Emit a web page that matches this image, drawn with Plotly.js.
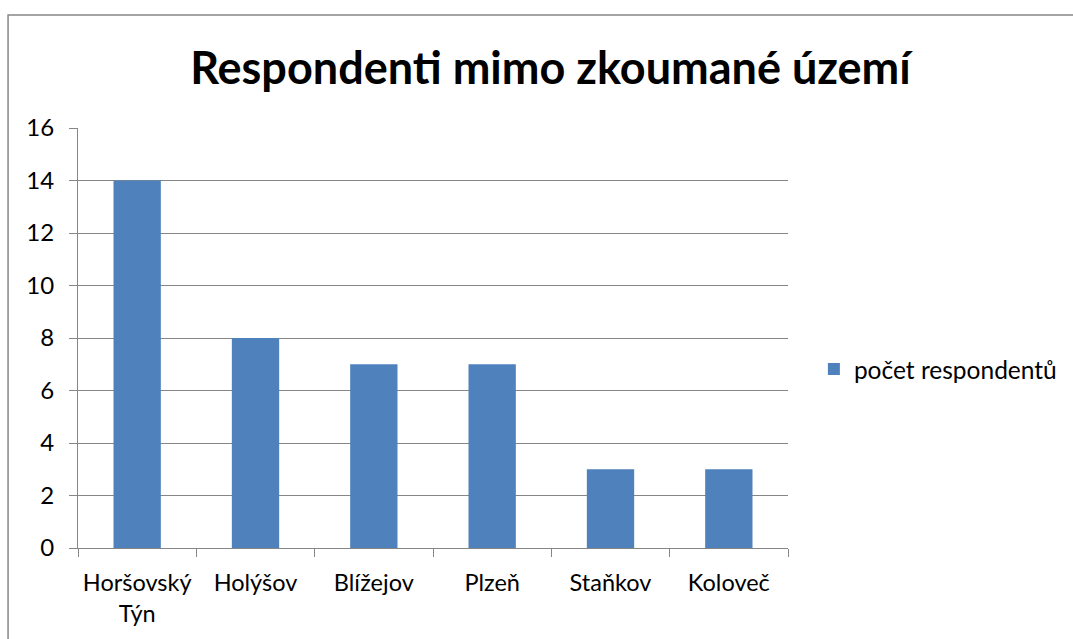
<!DOCTYPE html>
<html>
<head>
<meta charset="utf-8">
<script src="https://cdn.plot.ly/plotly-3.0.1.min.js"></script>
<style>html,body{margin:0;padding:0;background:#fff;}#chart{width:1073px;height:639px;}</style>
</head>
<body>
<div id="chart"></div>
<script>
const categories = ["Horšovský<br>Týn", "Holýšov", "Blížejov", "Plzeň", "Staňkov", "Koloveč"];
const values = [14, 8, 7, 7, 3, 3];
const seriesName = "počet respondentů";
const chartTitle = "Respondenti mimo zkoumané území";

const FONT = "Lato, 'Open Sans', sans-serif";
const trace = {
  type: "bar",
  x: categories,
  y: values,
  name: seriesName,
  marker: {color: "#4F81BD"},
  showlegend: true
};
const layout = {
  width: 1073, height: 639,
  margin: {l: 78, r: 284, t: 128, b: 91},
  paper_bgcolor: "#fff", plot_bgcolor: "#fff",
  font: {family: FONT, size: 24, color: "#000"},
  title: {text: "<b>" + chartTitle + "</b>", font: {family: FONT, size: 45, color: "#000"}, x: 0.513, xanchor: "center", y: 0.893, yanchor: "middle"},
  bargap: 0.6,
  xaxis: {
    showgrid: false, showline: true, linecolor: "#868686", linewidth: 1,
    ticks: "outside", ticklen: 8, tickcolor: "#868686", tickson: "boundaries",
    ticklabelstandoff: 14, fixedrange: true, tickfont: {family: FONT, size: 23.5}
  },
  yaxis: {
    range: [0, 16], dtick: 2, showgrid: true, gridcolor: "#868686", gridwidth: 1,
    showline: true, linecolor: "#868686", ticks: "outside", ticklen: 8, tickcolor: "#868686",
    zeroline: false, ticklabelstandoff: 10, fixedrange: true, tickfont: {family: FONT, size: 24}
  },
  showlegend: true,
  legend: {x: 1.035, xanchor: "left", y: 0.426, yanchor: "middle", font: {family: FONT, size: 24.5}, bgcolor: "rgba(0,0,0,0)"},
  shapes: [{type: "rect", xref: "paper", yref: "paper", x0: -0.0985, x1: 3, y0: -3, y1: 1.269, line: {color: "#878787", width: 1.5}, fillcolor: "rgba(0,0,0,0)", layer: "below"}]
};
Plotly.newPlot("chart", [trace], layout, {displayModeBar: false, staticPlot: true});
</script>
</body>
</html>
